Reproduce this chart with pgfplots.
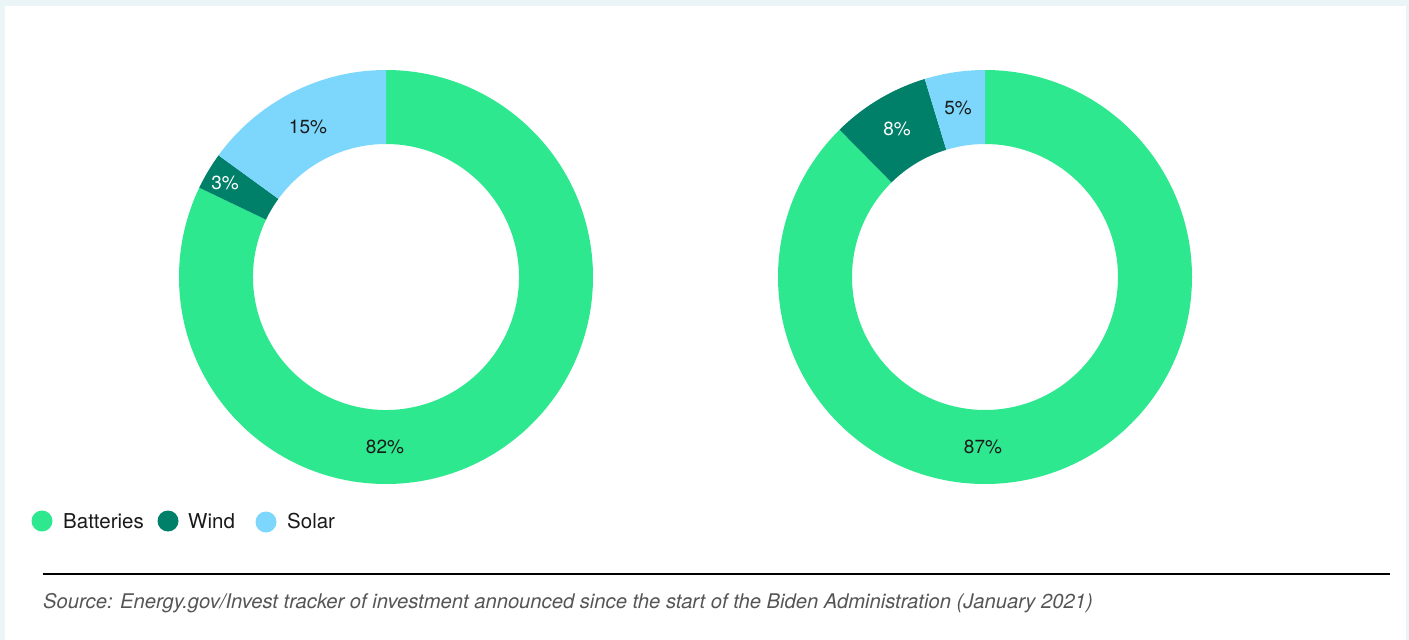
\documentclass[border=0pt]{standalone}
\usepackage{pgfplots}
\pgfplotsset{compat=1.18}
\usepackage{pgfplotstable}
\usepackage{fontspec}
\setmainfont{TeX Gyre Heros}

\definecolor{bat}{HTML}{2DE88F}
\definecolor{wind}{HTML}{007F69}
\definecolor{sol}{HTML}{7DD7FD}
\definecolor{bg}{HTML}{EBF5F7}
\definecolor{txt}{HTML}{1A1A1A}
\definecolor{src}{HTML}{555555}

% shares in percent, left and right donut (as measured from the ring)
\pgfplotstableread{
name      left right
Batteries 82.1 87.6
Wind      2.9  7.7
Solar     15.0 4.7
}\shares

\newcommand\getshare[3]{\pgfplotstablegetelem{#1}{#2}\of\shares\edef#3{\pgfplotsretval}}

% ring slice: colour, centre x, start angle, end angle (clockwise)
\newcommand\slice[4]{%
  \fill[#1] ([shift={(#3:207pt)}]axis cs:#2,277)
    arc[start angle=#3,end angle=#4,radius=207pt]
    -- ([shift={(#4:133pt)}]axis cs:#2,277)
    arc[start angle=#4,end angle=#3,radius=133pt] -- cycle;}

\begin{document}
\begin{tikzpicture}
\getshare{0}{left}\lB \getshare{1}{left}\lW \getshare{2}{left}\lS
\getshare{0}{right}\rB \getshare{1}{right}\rW \getshare{2}{right}\rS
\pgfmathsetmacro\lA{90-3.6*\lB}
\pgfmathsetmacro\lC{\lA-3.6*\lW}
\pgfmathsetmacro\lD{\lC-3.6*\lS}
\pgfmathsetmacro\rA{90-3.6*\rB}
\pgfmathsetmacro\rC{\rA-3.6*\rW}
\pgfmathsetmacro\rD{\rC-3.6*\rS}
\begin{axis}[
    width=1409pt, height=640pt, scale only axis,
    xmin=0, xmax=1409, ymin=0, ymax=640,
    y dir=reverse, hide axis, clip=false,
]
\fill[bg] (axis cs:0,0) rectangle (axis cs:1409,640);
\fill[white] (axis cs:5,6) rectangle (axis cs:1406,640);

\slice{bat}{386}{90}{\lA}
\slice{wind}{386}{\lA}{\lC}
\slice{sol}{386}{\lC}{\lD}
\slice{bat}{985}{90}{\rA}
\slice{wind}{985}{\rA}{\rC}
\slice{sol}{985}{\rC}{\rD}

\begin{scope}[font=\fontsize{19pt}{22pt}\selectfont]
\node[txt] at (axis cs:308,127) {15\%};
\node[white] at (axis cs:225,183) {3\%};
\node[txt] at (axis cs:385,447) {82\%};
\node[white] at (axis cs:897,129) {8\%};
\node[txt] at (axis cs:958,108) {5\%};
\node[txt] at (axis cs:983,447) {87\%};
\end{scope}

\begin{scope}[font=\fontsize{20.5pt}{24pt}\selectfont]
\fill[bat] (axis cs:42,521) circle[radius=10.5pt];
\node[txt, anchor=west, inner sep=0pt] at (axis cs:63,521) {Batteries};
\fill[wind] (axis cs:168,521) circle[radius=10.5pt];
\node[txt, anchor=west, inner sep=0pt] at (axis cs:188,521) {Wind};
\fill[sol] (axis cs:266,522) circle[radius=10.5pt];
\node[txt, anchor=west, inner sep=0pt] at (axis cs:287,521) {Solar};
\end{scope}

\draw[black, line width=2pt] (axis cs:43,574) -- (axis cs:1390,574);
\node[src, anchor=west, inner sep=0pt, font=\fontsize{20.2pt}{24pt}\selectfont\itshape]
  at (axis cs:43,603) {Source: Energy.gov/Invest tracker of investment announced since the start of the Biden Administration (January 2021)};
\end{axis}
\end{tikzpicture}
\end{document}
